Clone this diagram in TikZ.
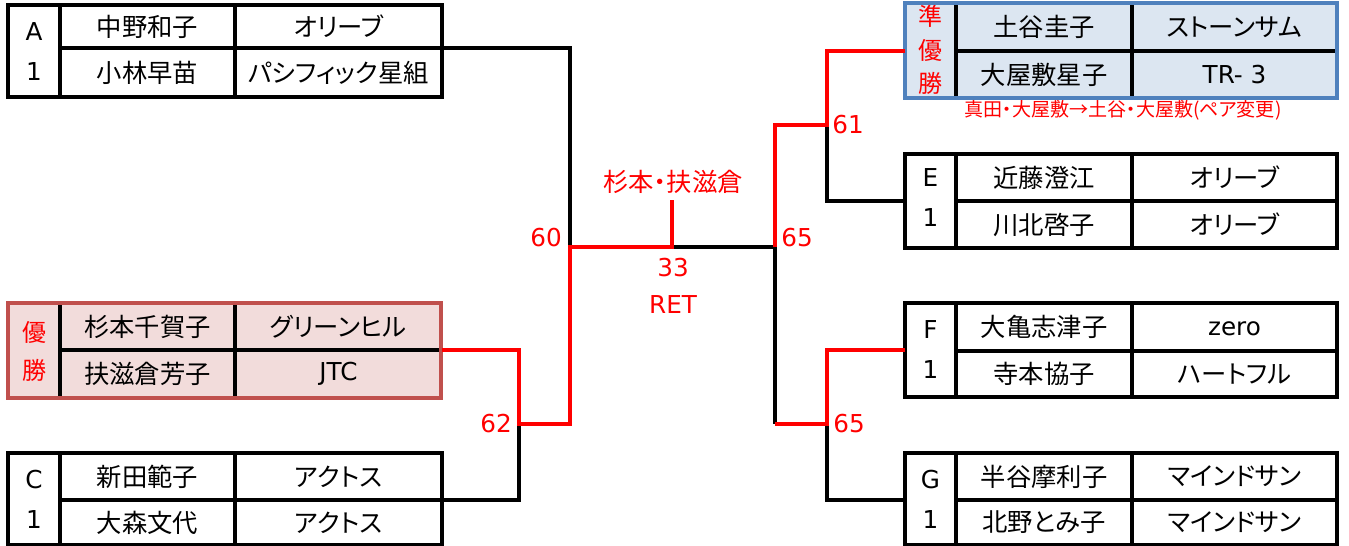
\documentclass[tikz,border=0pt]{standalone}
\usepackage{fontspec}
\setmainfont{Noto Sans CJK JP}[RawFeature=+palt]
\newfontfamily\latinfont{DejaVu Sans}
\definecolor{winfill}{HTML}{F2DCDB}
\definecolor{winline}{HTML}{C0504D}
\definecolor{runfill}{HTML}{DCE6F1}
\definecolor{runline}{HTML}{4F81BD}
\tikzset{
  box/.style={line width=2.3pt},
  bar/.style={line width=2.4pt},
  redbar/.style={line width=3.4pt,red},
  cell/.style={font=\fontsize{19}{22}\selectfont},
  word/.style={font=\latinfont\fontsize{18.5}{22}\selectfont},
  tag/.style={align=center,font=\latinfont\fontsize{18.5}{30}\selectfont},
  score/.style={red,font=\latinfont\fontsize{18.5}{22}\selectfont}
}
\begin{document}
\begin{tikzpicture}[x=0.75pt,y=-0.75pt]
\useasboundingbox (0,0) rectangle (1349,546);

% left side
\draw[box] (8,5) rectangle (442,97);
\draw[box] (60,5) -- (60,97) (235,5) -- (235,97) (60,48) -- (442,48);
\node[tag] (atag) at (34,52) {A\\1};
\node[cell] (aname1) at (147.5,26.5) {中野和子};
\node[cell] (ateam1) at (338.5,26.5) {オリーブ};
\node[cell] (aname2) at (147.5,72.5) {小林早苗};
\node[cell] (ateam2) at (338.5,72.5) {パシフィック星組};

\draw[box,draw=winline,fill=winfill,line width=3.4pt] (8,303) rectangle (441,398);
\draw[box] (60,305) -- (60,396) (235,305) -- (235,396) (60,350) -- (439,350);
\node[red,align=center,font=\fontsize{18}{28.5}\selectfont] (btag) at (34,351) {優\\勝};
\node[cell] (bname1) at (147.5,326.5) {杉本千賀子};
\node[cell] (bteam1) at (338.5,326.5) {グリーンヒル};
\node[cell] (bname2) at (147.5,374) {扶滋倉芳子};
\node[word] (bteam2) at (338.5,374) {JTC};

\draw[box] (8,453) rectangle (442,545);
\draw[box] (60,453) -- (60,545) (235,453) -- (235,545) (60,500) -- (442,500);
\node[tag] (ctag) at (34,499) {C\\1};
\node[cell] (cname1) at (147.5,476.5) {新田範子};
\node[cell] (cteam1) at (338.5,476.5) {アクトス};
\node[cell] (cname2) at (147.5,522.5) {大森文代};
\node[cell] (cteam2) at (338.5,522.5) {アクトス};

% right side
\draw[box,draw=runline,fill=runfill,line width=3.4pt] (905,3) rectangle (1337,98);
\draw[box] (956,5) -- (956,96) (1132,5) -- (1132,96) (956,51) -- (1335,51);
\node[red,align=center,font=\fontsize{18}{25}\selectfont] (dtag) at (930.5,50) {準\\優\\勝};
\node[cell] (dname1) at (1044,27) {土谷圭子};
\node[cell] (dteam1) at (1234.5,27) {ストーンサム};
\node[cell] (dname2) at (1044,74.5) {大屋敷星子};
\node[word] (dteam2) at (1234.5,74.5) {TR- 3};
\node[red,font=\fontsize{14.3}{17}\selectfont] (dnote) at (1123,110) {真田・大屋敷→土谷・大屋敷(ペア変更)};

\draw[box] (905,154) rectangle (1337,248);
\draw[box] (956,154) -- (956,248) (1132,154) -- (1132,248) (956,201) -- (1337,201);
\node[tag] (etag) at (930.5,198) {E\\1};
\node[cell] (ename1) at (1044,177.5) {近藤澄江};
\node[cell] (eteam1) at (1234.5,177.5) {オリーブ};
\node[cell] (ename2) at (1044,224.5) {川北啓子};
\node[cell] (eteam2) at (1234.5,224.5) {オリーブ};

\draw[box] (905,303) rectangle (1337,397);
\draw[box] (956,303) -- (956,397) (1132,303) -- (1132,397) (956,351) -- (1337,351);
\node[tag] (ftag) at (930.5,350) {F\\1};
\node[cell] (fname1) at (1044,327) {大亀志津子};
\node[word] (fteam1) at (1234.5,329) {zero};
\node[cell] (fname2) at (1044,374) {寺本協子};
\node[cell] (fteam2) at (1234.5,374) {ハートフル};

\draw[box] (905,453) rectangle (1337,545);
\draw[box] (956,453) -- (956,545) (1132,453) -- (1132,545) (956,500) -- (1337,500);
\node[tag] (gtag) at (930.5,499) {G\\1};
\node[cell] (gname1) at (1044,476.5) {半谷摩利子};
\node[cell] (gteam1) at (1234.5,476.5) {マインドサン};
\node[cell] (gname2) at (1044,522.5) {北野とみ子};
\node[cell] (gteam2) at (1234.5,522.5) {マインドサン};

% bracket
\coordinate (aout) at (442,48);
\coordinate (bout) at (442,350);
\coordinate (cout) at (442,500);
\coordinate (dout) at (905,51);
\coordinate (eout) at (905,201);
\coordinate (fout) at (905,350);
\coordinate (gout) at (905,500);
\coordinate (bc) at (519,424);
\coordinate (abc) at (570,247);
\coordinate (de) at (827,125);
\coordinate (fg) at (827,424);
\coordinate (fgleft) at (775,424);
\coordinate (defg) at (775,247);
\coordinate (final) at (672,247);
\coordinate (champ) at (672,200);

\draw[bar] (aout) -| (abc);
\draw[bar] (cout) -| (bc);
\draw[bar] (eout) -| (de);
\draw[bar] (gout) -| (fg);
\draw[bar] (final) -- (defg) -- (fgleft);
\draw[redbar] (bout) -| (bc) -| (abc) -- (final) -- (champ);
\draw[redbar] (dout) -| (de) -| (defg);
\draw[redbar] (fout) -| (fg) -- (fgleft);

\node[red,font=\fontsize{19}{22}\selectfont] (champname) at (673,182) {杉本・扶滋倉};
\node[score] (s60) at (546,238) {60};
\node[score] (s62) at (496,424) {62};
\node[score] (s33) at (673,268) {33};
\node[score] (sret) at (673,305) {RET};
\node[score] (s65a) at (797,238) {65};
\node[score] (s61) at (848,125) {61};
\node[score] (s65b) at (849,424) {65};
\end{tikzpicture}
\end{document}
